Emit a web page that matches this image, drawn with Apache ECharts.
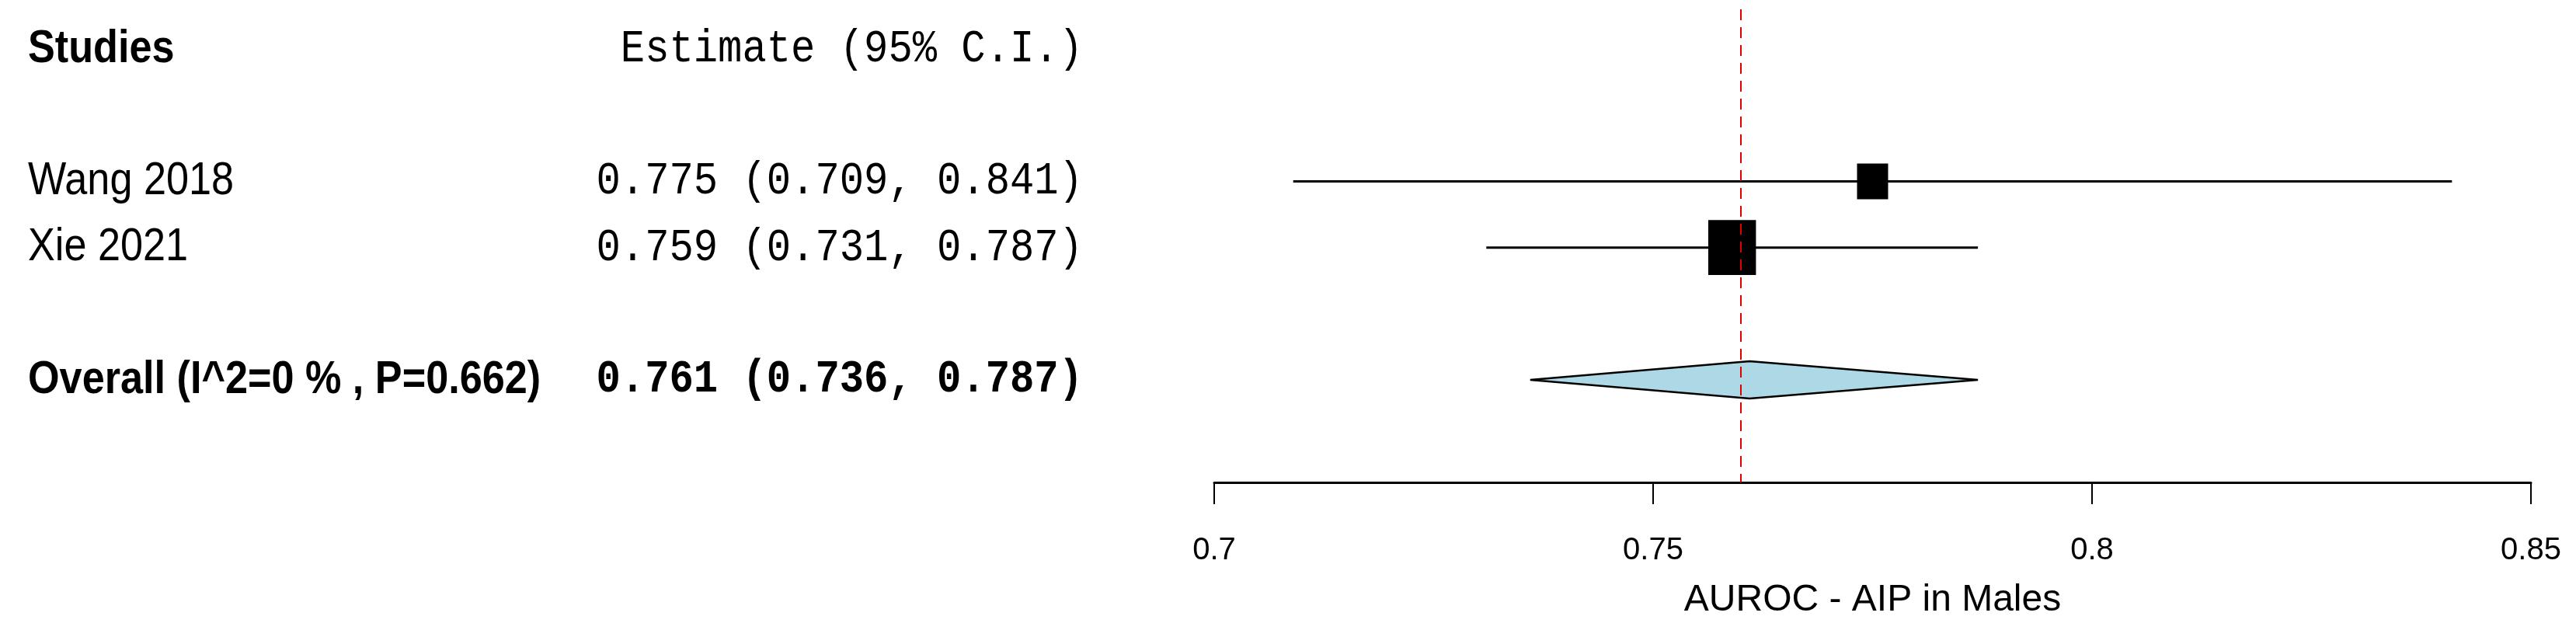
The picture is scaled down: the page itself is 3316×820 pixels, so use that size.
<!DOCTYPE html>
<html>
<head>
<meta charset="utf-8">
<script src="https://cdn.jsdelivr.net/npm/echarts@6/dist/echarts.min.js"></script>
<style>
  html, body { margin: 0; padding: 0; background: #fff; }
  #forest { width: 3316px; height: 820px; }
</style>
</head>
<body>
<div id="forest"></div>
<script>
  // study level data
  const studies = ['Wang 2018', 'Xie 2021'];
  const estimates = [0.775, 0.759];
  const lower = [0.709, 0.731];
  const upper = [0.841, 0.787];
  const studyRows = [2, 3];

  // pooled result
  const overallLabel = 'Overall (I^2=0 % , P=0.662)';
  const overallEst = [0.761];
  const overallLower = [0.736];
  const overallUpper = [0.787];
  const overallRow = [5];

  const headerLeft = 'Studies';
  const headerRight = 'Estimate (95% C.I.)';
  const xTicks = [0.7, 0.75, 0.8, 0.85];
  const xTitle = 'AUROC - AIP in Males';

  const squeeze = 0.87; // the original text is a bit narrow
  const nameX = 36;
  const ciRight = 1394;

  function fmt(e, lo, hi) {
    return e.toFixed(3) + ' (' + lo.toFixed(3) + ', ' + hi.toFixed(3) + ')';
  }

  function txt(str, x, y, font, align) {
    return {
      type: 'text',
      x: x,
      y: y,
      scaleX: squeeze,
      style: {
        text: str,
        font: font,
        fill: '#000',
        align: align,
        textAlign: align,
        verticalAlign: 'middle',
        textVerticalAlign: 'middle'
      }
    };
  }

  const sans = '"Liberation Sans", Arial, sans-serif';
  const mono = '"Liberation Mono", "Courier New", monospace';

  const studyData = studies.map((s, i) => [estimates[i], lower[i], upper[i], studyRows[i]]);
  const overallData = overallEst.map((e, i) => [e, overallLower[i], overallUpper[i], overallRow[i]]);

  const myChart = echarts.init(document.getElementById('forest'), null, { renderer: 'canvas' });

  const option = {
    backgroundColor: '#fff',
    animation: false,
    grid: { left: 1563, right: 58, top: 12, bottom: 199 },
    xAxis: {
      type: 'value',
      position: 'bottom',
      min: xTicks[0],
      max: xTicks[xTicks.length - 1],
      interval: 0.05,
      splitLine: { show: false },
      axisLine: { show: true, onZero: false, lineStyle: { color: '#000', width: 3 } },
      axisTick: { show: true, length: 28, lineStyle: { color: '#000', width: 2 } },
      axisLabel: {
        color: '#000',
        fontSize: 40,
        fontFamily: sans,
        margin: 68,
        formatter: v => String(+v.toFixed(2))
      },
      name: xTitle,
      nameLocation: 'middle',
      nameGap: 128,
      nameTextStyle: { color: '#000', fontSize: 48, fontFamily: sans }
    },
    yAxis: {
      type: 'value',
      inverse: true,
      min: -0.6,
      max: 6.55,
      show: false
    },
    series: [
      {
        // reference line at the pooled estimate
        type: 'line',
        data: [],
        z: 1,
        markLine: {
          silent: true,
          symbol: 'none',
          label: { show: false },
          lineStyle: { color: '#e00000', width: 2, type: [14, 9] },
          data: [{ xAxis: overallEst[0] }]
        }
      },
      {
        // header row
        type: 'custom',
        z: 3,
        data: [[xTicks[0], 0]],
        encode: { x: 0, y: 1 },
        renderItem: function (params, api) {
          const p = api.coord([api.value(0), api.value(1)]);
          return {
            type: 'group',
            children: [
              txt(headerLeft, nameX, p[1], 'bold 60px ' + sans, 'left'),
              txt(headerRight, ciRight, p[1], '60px ' + mono, 'right')
            ]
          };
        }
      },
      {
        name: 'studies',
        type: 'custom',
        z: 3,
        data: studyData,
        encode: { x: [0, 1, 2], y: 3 },
        renderItem: function (params, api) {
          const i = params.dataIndex;
          const e = api.value(0), lo = api.value(1), hi = api.value(2), row = api.value(3);
          const pLo = api.coord([lo, row]);
          const pHi = api.coord([hi, row]);
          const pE = api.coord([e, row]);
          // box grows with precision
          const side = 16.7 * Math.sqrt(1 / (hi - lo));
          return {
            type: 'group',
            children: [
              {
                type: 'line',
                shape: { x1: pLo[0], y1: pLo[1], x2: pHi[0], y2: pHi[1] },
                style: { stroke: '#000', lineWidth: 3 }
              },
              {
                type: 'rect',
                shape: { x: pE[0] - side * squeeze / 2, y: pE[1] - side / 2, width: side * squeeze, height: side },
                style: { fill: '#000' }
              },
              txt(studies[i], nameX, pE[1], '60px ' + sans, 'left'),
              txt(fmt(e, lo, hi), ciRight, pE[1], '60px ' + mono, 'right')
            ]
          };
        }
      },
      {
        name: 'overall',
        type: 'custom',
        z: 4,
        data: overallData,
        encode: { x: [0, 1, 2], y: 3 },
        renderItem: function (params, api) {
          const e = api.value(0), lo = api.value(1), hi = api.value(2), row = api.value(3);
          const pLo = api.coord([lo, row]);
          const pHi = api.coord([hi, row]);
          const pE = api.coord([e, row]);
          const h = 24;
          return {
            type: 'group',
            children: [
              {
                type: 'polygon',
                shape: { points: [[pLo[0], pLo[1]], [pE[0], pE[1] - h], [pHi[0], pHi[1]], [pE[0], pE[1] + h]] },
                style: { fill: '#add8e6', stroke: '#000', lineWidth: 2.5 }
              },
              txt(overallLabel, nameX, pE[1], 'bold 60px ' + sans, 'left'),
              txt(fmt(e, lo, hi), ciRight, pE[1], 'bold 60px ' + mono, 'right')
            ]
          };
        }
      }
    ]
  };

  myChart.setOption(option);
</script>
</body>
</html>
